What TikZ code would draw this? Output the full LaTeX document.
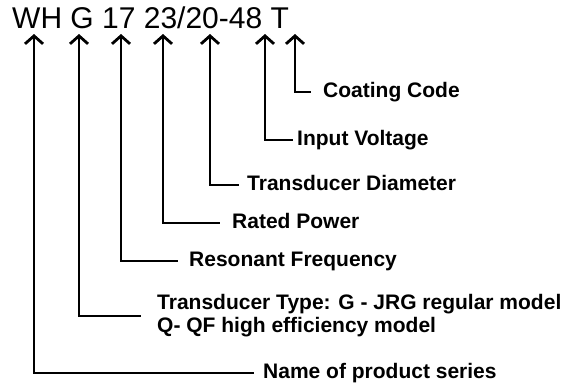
\documentclass[tikz,border=0pt]{standalone}
\usepackage{fontspec}
\setmainfont{Liberation Sans}
\usetikzlibrary{positioning,arrows.meta}

\begin{document}
\begin{tikzpicture}[x=1pt,y=-1pt,
  callout/.style={anchor=west,inner sep=0pt,text height=10pt,text depth=0pt,
    font=\fontsize{21}{23}\selectfont\bfseries},
  calloutwrap/.style={anchor=west,inner sep=0pt,align=left,
    font=\fontsize{21}{23}\selectfont\bfseries},
  lead/.style={line width=2.8pt,{Straight Barb[length=8pt,width=18pt]}-}]
\useasboundingbox (0,0) rectangle (566,389);
% model code
\node[anchor=base west,inner sep=0pt,font=\fontsize{30}{34}\selectfont] (code) at (12,28) {WH G 17 23/20-48 T};
% arrow tips under the code
\coordinate (tWH) at (34,34);
\coordinate (tG) at (79,34);
\coordinate (tFreq) at (121,34);
\coordinate (tPow) at (163,34);
\coordinate (tDia) at (210,34);
\coordinate (tVolt) at (265,34);
\coordinate (tCoat) at (295,34);
% labels
\node[callout] (coat) at (323,92) {Coating Code};
\node[callout] (volt) at (297,140) {Input Voltage};
\node[callout] (dia) at (247,185) {Transducer Diameter};
\node[callout] (pow) at (232,223) {Rated Power};
\node[callout] (freq) at (189,261) {Resonant Frequency};
\node[calloutwrap] (type) at (157,316) {Transducer Type: G - JRG regular model\\Q- QF high efficiency model};
\node[callout] (series) at (263,373) {Name of product series};
% leader lines
\draw[lead] (tCoat) |- ([xshift=-12pt]coat.west);
\draw[lead] (tVolt) |- ([xshift=-4pt]volt.west);
\draw[lead] (tDia) |- ([xshift=-8pt]dia.west);
\draw[lead] (tPow) |- ([xshift=-12pt]pow.west);
\draw[lead] (tFreq) |- ([xshift=-11pt]freq.west);
\draw[lead] (tG) |- ([xshift=-16pt]type.west);
\draw[lead] (tWH) |- ([xshift=-9pt]series.west);
\end{tikzpicture}
\end{document}
